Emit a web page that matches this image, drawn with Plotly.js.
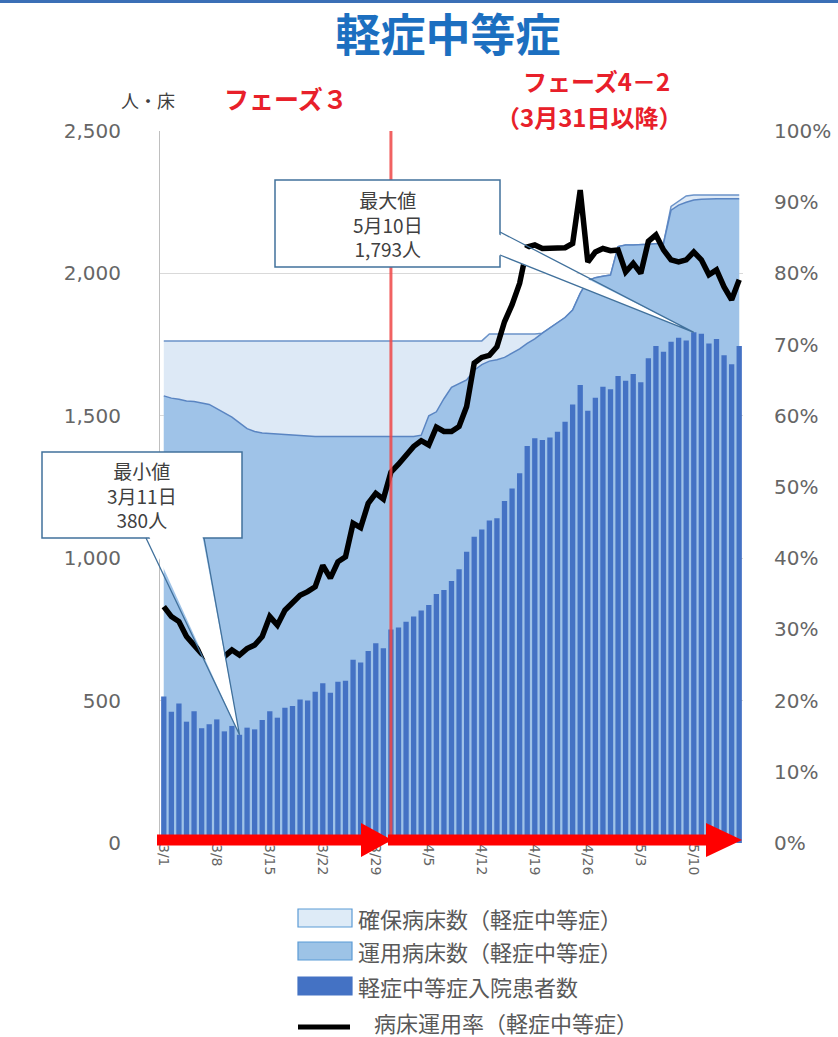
<!DOCTYPE html>
<html>
<head>
<meta charset="utf-8">
<script src="https://cdn.plot.ly/plotly-3.0.1.min.js"></script>
<style>
  html, body { margin: 0; padding: 0; background: #ffffff; }
  #chart { width: 838px; height: 1037px; }
</style>
</head>
<body>
<div id="chart"></div>
<script>
// ---- data ----
const categories = [
  '3/1','3/2','3/3','3/4','3/5','3/6','3/7','3/8','3/9','3/10','3/11','3/12','3/13','3/14','3/15','3/16',
  '3/17','3/18','3/19','3/20','3/21','3/22','3/23','3/24','3/25','3/26','3/27','3/28','3/29','3/30','3/31',
  '4/1','4/2','4/3','4/4','4/5','4/6','4/7','4/8','4/9','4/10','4/11','4/12','4/13','4/14','4/15','4/16',
  '4/17','4/18','4/19','4/20','4/21','4/22','4/23','4/24','4/25','4/26','4/27','4/28','4/29','4/30',
  '5/1','5/2','5/3','5/4','5/5','5/6','5/7','5/8','5/9','5/10','5/11','5/12','5/13','5/14','5/15','5/16'
];

// 確保病床数（軽症中等症）
const securedBeds = [
  1763,1763,1763,1763,1763,1763,1763,1763,1763,1763,1763,1763,1763,1763,1763,1763,
  1763,1763,1763,1763,1763,1763,1763,1763,1763,1763,1763,1763,1763,1763,1763,
  1763,1763,1763,1763,1763,1763,1763,1763,1763,1763,1763,1763,1787,1787,1787,1787,
  1787,1787,1787,1790,1808,1825,1845,1871,1930,1975,1985,1990,1994,2094,
  2100,2100,2100,2102,2104,2105,2235,2255,2272,2275,2275,2275,2275,2275,2275,2275
];

// 運用病床数（軽症中等症）
const operatingBeds = [
  1570,1562,1558,1552,1550,1545,1540,1525,1510,1495,1475,1455,1445,1440,1438,1436,
  1434,1432,1430,1428,1427,1427,1427,1427,1427,1427,1427,1427,1427,1427,1427,
  1427,1427,1427,1432,1500,1514,1560,1600,1614,1626,1660,1680,1692,1697,1705,1719,
  1735,1754,1770,1790,1808,1825,1845,1871,1930,1975,1985,1990,1994,2094,
  2100,2100,2100,2102,2104,2105,2222,2240,2250,2258,2260,2262,2262,2262,2262,2262
];

// 軽症中等症入院患者数
const patients = [
  514,461,490,426,463,403,417,434,392,411,380,405,399,432,463,440,
  475,481,504,500,531,561,528,566,570,643,634,674,701,684,750,
  757,777,795,816,836,874,888,920,961,1023,1075,1101,1132,1140,1201,1245,
  1298,1394,1421,1415,1424,1444,1479,1540,1608,1518,1563,1602,1593,1640,
  1623,1647,1618,1702,1745,1725,1760,1774,1764,1793,1788,1754,1770,1713,1681,1745
];

// 病床運用率（軽症中等症） in %
const occupancyRate = [
  33.2,31.8,31.1,29.0,27.8,26.6,25.8,25.5,26.2,27.1,26.4,27.3,27.8,29.0,31.8,30.6,
  32.7,33.7,34.8,35.3,36.0,39.0,37.2,39.5,40.2,44.9,44.3,47.7,49.1,48.3,52.1,
  53.2,54.5,55.7,56.5,55.9,58.4,57.8,57.8,58.5,61.3,67.4,68.2,68.5,69.7,73.2,75.6,
  78.6,83.7,84.0,83.5,83.5,83.5,83.6,84.2,91.7,81.6,83.0,83.5,83.2,83.3,
  80.2,81.4,80.0,84.5,85.4,83.3,81.9,81.6,81.9,83.0,81.9,79.8,80.5,78.1,76.3,79.1
];

const tickLabels = ['3/1','3/8','3/15','3/22','3/29','4/5','4/12','4/19','4/26','5/3','5/10'];
const leftTicks = [0, 500, 1000, 1500, 2000, 2500];
const phaseChangeDate = '3/31';

// ---- layout helpers (pixel -> paper) ----
const W = 838, H = 1037;
const L = 160, R = 743, T = 131, B = 843;
const X = p => (p - L) / (R - L);
const Y = p => (B - p) / (B - T);
const N = categories.length;
const YMAX = 2500;

const JP = '"Noto Sans CJK JP", "Noto Sans", sans-serif';
const NUM = '"DejaVu Sans", "Noto Sans", sans-serif';

const rateFrac = occupancyRate.map(v => v / 100);

const traces = [
  { type: 'scatter', mode: 'lines', x: categories, y: securedBeds, name: '確保病床数（軽症中等症）',
    fill: 'tozeroy', fillcolor: '#dde9f6', line: { color: '#6b93c9', width: 1.5, shape: 'linear' },
    xaxis: 'x', yaxis: 'y', hoverinfo: 'skip' },
  { type: 'scatter', mode: 'lines', x: categories, y: operatingBeds, name: '運用病床数（軽症中等症）',
    fill: 'tozeroy', fillcolor: '#9fc3e8', line: { color: '#5a85c2', width: 1.5 },
    xaxis: 'x', yaxis: 'y', hoverinfo: 'skip' },
  { type: 'bar', x: categories, y: patients, name: '軽症中等症入院患者数',
    marker: { color: '#4472c4' }, xaxis: 'x', yaxis: 'y2', hoverinfo: 'skip' },
  { type: 'scatter', mode: 'lines', x: categories, y: rateFrac, name: '病床運用率（軽症中等症）',
    line: { color: '#000000', width: 5.5 }, xaxis: 'x', yaxis: 'y3', hoverinfo: 'skip' }
];

// callouts derived from data
let maxIdx = 0, minIdx = 0;
patients.forEach((v, i) => { if (v > patients[maxIdx]) maxIdx = i; if (v < patients[minIdx]) minIdx = i; });
const dateJP = c => { const [m, d] = c.split('/'); return m + '月' + d + '日'; };
const fmt = v => v.toLocaleString('en-US');
const tipX = i => (i + 0.5) / N;
const tipY = v => v / YMAX;

const shapes = [];
const annotations = [];

// top blue border
shapes.push({ type: 'rect', xref: 'paper', yref: 'paper', x0: X(0), x1: X(W), y0: Y(0), y1: Y(3),
  fillcolor: '#3b6fb6', line: { width: 0 }, layer: 'above' });

// phase-change red line
shapes.push({ type: 'line', xref: 'x', yref: 'paper', x0: categories.indexOf(phaseChangeDate), x1: categories.indexOf(phaseChangeDate),
  y0: 0, y1: 1, line: { color: 'rgba(238,70,70,0.85)', width: 3 }, layer: 'above' });

// red arrows along the bottom
function arrowPath(x0, x1, headStart, yc, sh, hh) {
  return `M ${X(x0)} ${Y(yc - sh)} L ${X(headStart)} ${Y(yc - sh)} L ${X(headStart)} ${Y(yc - hh)} ` +
         `L ${X(x1)} ${Y(yc)} L ${X(headStart)} ${Y(yc + hh)} L ${X(headStart)} ${Y(yc + sh)} L ${X(x0)} ${Y(yc + sh)} Z`;
}
shapes.push({ type: 'path', xref: 'paper', yref: 'paper', path: arrowPath(157, 392, 361, 840, 5.5, 17),
  fillcolor: '#ff0000', line: { width: 0 }, layer: 'above' });
shapes.push({ type: 'path', xref: 'paper', yref: 'paper', path: arrowPath(388, 742, 706, 840, 5.5, 17),
  fillcolor: '#ff0000', line: { width: 0 }, layer: 'above' });

// callout helper
function callout(box, base, tip, lines) {
  const [bx0, by0, bx1, by1] = box;
  shapes.push({ type: 'rect', xref: 'paper', yref: 'paper', x0: X(bx0), x1: X(bx1), y0: Y(by1), y1: Y(by0),
    fillcolor: '#ffffff', line: { color: '#41719c', width: 1.5 }, layer: 'above' });
  const [p1, p2, inner] = base;
  shapes.push({ type: 'path', xref: 'paper', yref: 'paper',
    path: `M ${X(inner[0][0])} ${Y(inner[0][1])} L ${tip[0]} ${tip[1]} L ${X(inner[1][0])} ${Y(inner[1][1])} Z`,
    fillcolor: '#ffffff', line: { width: 0 }, layer: 'above' });
  shapes.push({ type: 'path', xref: 'paper', yref: 'paper',
    path: `M ${X(p1[0])} ${Y(p1[1])} L ${tip[0]} ${tip[1]} L ${X(p2[0])} ${Y(p2[1])}`,
    line: { color: '#41719c', width: 1.3 }, layer: 'above' });
  annotations.push({ xref: 'paper', yref: 'paper', x: X((bx0 + bx1) / 2), y: Y((by0 + by1) / 2),
    xanchor: 'center', yanchor: 'middle', showarrow: false, align: 'center',
    text: lines.join('<br>'), font: { family: JP, size: 19, color: '#404040' } });
}

callout([275, 180, 500, 267],
  [[500, 232], [500, 255], [[496, 233], [496, 254]]],
  [tipX(maxIdx), tipY(patients[maxIdx])],
  ['最大値', dateJP(categories[maxIdx]), fmt(patients[maxIdx]) + '人']);

callout([42, 452, 242, 538],
  [[146, 538], [204, 538], [[148, 534], [202, 534]]],
  [tipX(minIdx), tipY(patients[minIdx])],
  ['最小値', dateJP(categories[minIdx]), fmt(patients[minIdx]) + '人']);

// header texts
annotations.push({ xref: 'paper', yref: 'paper', x: X(148), y: Y(100), xanchor: 'center', yanchor: 'middle',
  showarrow: false, text: '人・床', font: { family: JP, size: 18, color: '#404040' } });
annotations.push({ xref: 'paper', yref: 'paper', x: X(286), y: Y(98), xanchor: 'center', yanchor: 'middle',
  showarrow: false, text: '<b>フェーズ３</b>', font: { family: JP, size: 25, color: '#e8202a' } });
annotations.push({ xref: 'paper', yref: 'paper', x: X(596), y: Y(80), xanchor: 'center', yanchor: 'middle',
  showarrow: false, text: '<b>フェーズ4－2</b>', font: { family: JP, size: 24, color: '#e8202a' } });
annotations.push({ xref: 'paper', yref: 'paper', x: X(589), y: Y(116), xanchor: 'center', yanchor: 'middle',
  showarrow: false, text: '<b>（3月31日以降）</b>', font: { family: JP, size: 24, color: '#e8202a' } });

// manual legend
const legendItems = [
  { kind: 'rect', fill: '#deebf7', border: '#5b9bd5', y: 918, tx: 356, text: traces[0].name },
  { kind: 'rect', fill: '#9dc3e6', border: '#5b9bd5', y: 951, tx: 356, text: traces[1].name },
  { kind: 'rect', fill: '#4472c4', border: '#4472c4', y: 986, tx: 356, text: traces[2].name },
  { kind: 'line', fill: '#000000', border: '#000000', y: 1026, tx: 372, text: traces[3].name }
];
legendItems.forEach(it => {
  if (it.kind === 'rect') {
    shapes.push({ type: 'rect', xref: 'paper', yref: 'paper', x0: X(298), x1: X(352), y0: Y(it.y + 9), y1: Y(it.y - 9),
      fillcolor: it.fill, line: { color: it.border, width: 1.2 }, layer: 'above' });
  } else {
    shapes.push({ type: 'line', xref: 'paper', yref: 'paper', x0: X(298), x1: X(350), y0: Y(it.y + 1), y1: Y(it.y + 1),
      line: { color: '#000000', width: 5 }, layer: 'above' });
  }
  annotations.push({ xref: 'paper', yref: 'paper', x: X(it.tx), y: Y(it.kind === 'line' ? it.y - 4 : it.y),
    xanchor: 'left', yanchor: 'middle', showarrow: false, text: it.text,
    font: { family: JP, size: 22, color: '#595959' } });
});

const layout = {
  width: W, height: H,
  margin: { l: L, r: W - R, t: T, b: H - B, pad: 0 },
  paper_bgcolor: '#ffffff', plot_bgcolor: '#ffffff',
  showlegend: false,
  bargap: 0.3,
  title: { text: '<b>軽症中等症</b>', x: X(448), xanchor: 'center', xref: 'paper',
    y: 1 - 36 / H, yanchor: 'middle', yref: 'container',
    font: { family: JP, size: 45, color: '#1c6fc0' } },
  xaxis: {
    type: 'category', categoryorder: 'array', categoryarray: categories,
    range: [-0.5, N - 0.5], tickmode: 'array', tickvals: tickLabels, ticktext: tickLabels,
    tickangle: 90, ticks: '', showgrid: false, showline: false, zeroline: false,
    tickfont: { family: NUM, size: 14, color: '#666666' }, fixedrange: true
  },
  yaxis: {
    range: [0, YMAX], tickmode: 'array', tickvals: leftTicks, tickformat: ',',
    showgrid: true, gridcolor: '#d9d9d9', gridwidth: 1, zeroline: false,
    showline: true, linecolor: '#bfbfbf', linewidth: 1,
    ticks: 'outside', ticklen: 34, tickcolor: 'rgba(0,0,0,0)',
    tickfont: { family: NUM, size: 20, color: '#666666' }, fixedrange: true
  },
  yaxis2: { overlaying: 'y', range: [0, YMAX], visible: false, showgrid: false, zeroline: false, fixedrange: true },
  yaxis3: {
    overlaying: 'y', side: 'right', range: [0, 1], tickmode: 'linear', tick0: 0, dtick: 0.1,
    tickformat: '.0%', showgrid: false, zeroline: false, showline: false,
    ticks: 'outside', ticklen: 26, tickcolor: 'rgba(0,0,0,0)',
    tickfont: { family: NUM, size: 20, color: '#666666' }, fixedrange: true
  },
  shapes: shapes,
  annotations: annotations
};

Plotly.newPlot('chart', traces, layout, { staticPlot: true, displayModeBar: false });
</script>
</body>
</html>
